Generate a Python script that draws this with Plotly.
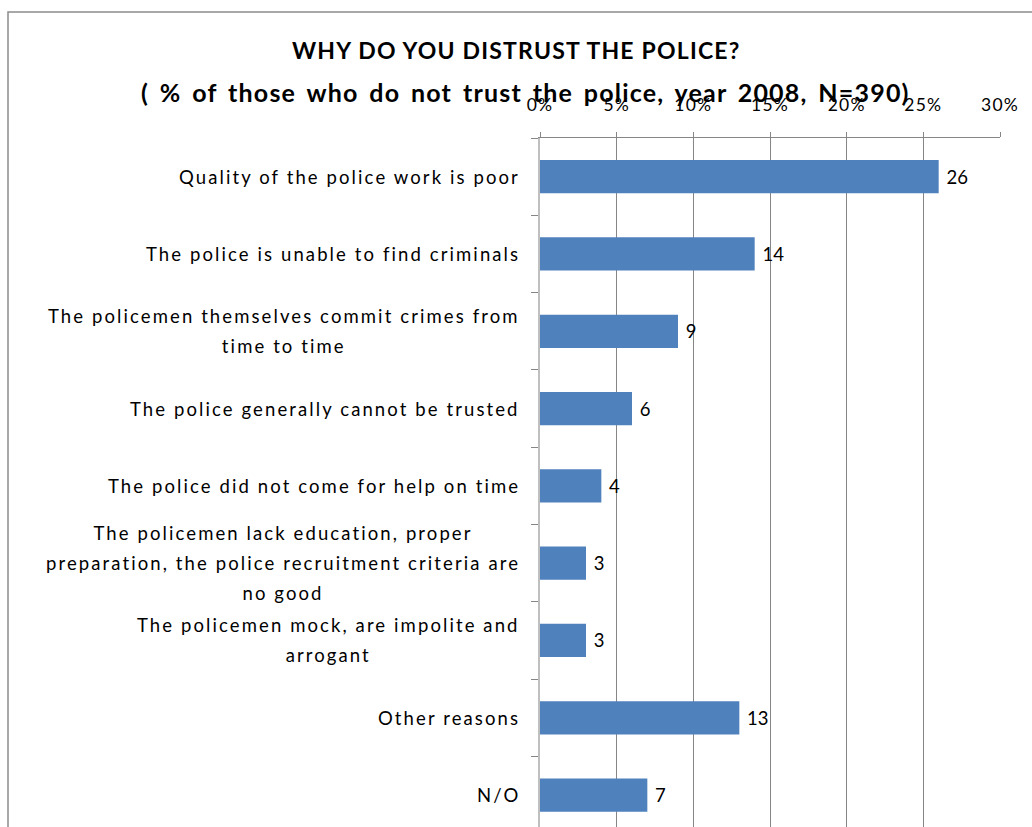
import plotly.graph_objects as go

# Reasons for distrust, top to bottom
categories = [
    "Quality of the police work is poor",
    "The police is unable to find criminals",
    "The policemen themselves commit crimes from<br>time to time",
    "The police generally cannot be trusted",
    "The police did not come for help on time",
    "The policemen lack education, proper<br>preparation, the police recruitment criteria are<br>no good",
    "The policemen mock, are impolite and<br>arrogant",
    "Other reasons",
    "N/O",
]
values = [26, 14, 9, 6, 4, 3, 3, 13, 7]

x_tickvals = [0, 5, 10, 15, 20, 25, 30]
x_ticktext = ["0%", "5%", "10%", "15%", "20%", "25%", "30%"]

title_lines = [
    "WHY DO YOU DISTRUST THE POLICE?",
    "( % of those who do not trust the police, year 2008, N=390)",
]

W, H = 1032, 827
L, R, T, B = 540, 32, 138, 0
plot_w = W - L - R
plot_h = H - T - B

FONT = "Lato"
LABEL_SIZE = 18.5
LINE_GAP = 30  # spacing between lines of a wrapped category label
# plotly spaces lines by 1.3em of the base font, so the base size sets the gap
BASE_SIZE = LINE_GAP / 1.3
LABEL_STYLE = f"font-size:{LABEL_SIZE}px;letter-spacing:2.1px"


def px_to_paper(px, py):
    return (px - L) / plot_w, (H - py) / plot_h


fig = go.Figure(
    go.Bar(
        y=categories,
        x=values,
        orientation="h",
        width=0.43,
        marker=dict(color="#4F81BD", line=dict(width=0)),
        text=[f" {v}" for v in values],
        textposition="outside",
        textfont=dict(family=FONT, size=18.5, color="#000000"),
        cliponaxis=False,
        hoverinfo="skip",
    )
)

# Category labels, right-aligned against the axis, wrapped lines centred
annotations = []
for cat in categories:
    lines = cat.split("<br>")
    text = "<br>".join(f"<span style='{LABEL_STYLE}'>{line}</span>" for line in lines)
    annotations.append(
        dict(
            text=text,
            xref="paper",
            x=0,
            xanchor="right",
            xshift=-18,
            yref="y",
            y=cat,
            yanchor="middle",
            align="center",
            showarrow=False,
            font=dict(family=FONT, size=BASE_SIZE, color="#000000"),
        )
    )

# Two-line bold title
title_styles = [
    (516, 50, 23, "letter-spacing:1.2px"),
    (525, 92, 25, "letter-spacing:1.2px;word-spacing:3.5px"),
]
for text, (cx, cy, size, style) in zip(title_lines, title_styles):
    ax, ay = px_to_paper(cx, cy)
    annotations.append(
        dict(
            text=f"<b><span style='{style}'>{text}</span></b>",
            xref="paper",
            yref="paper",
            x=ax,
            y=ay,
            xanchor="center",
            yanchor="middle",
            showarrow=False,
            font=dict(family=FONT, size=size, color="#000000"),
        )
    )

bx0, by0 = px_to_paper(8, 12)
bx1, by1 = px_to_paper(W + 20, H + 20)

fig.update_layout(
    width=W,
    height=H,
    margin=dict(l=L, r=R, t=T, b=B, pad=0),
    paper_bgcolor="#FFFFFF",
    plot_bgcolor="#FFFFFF",
    showlegend=False,
    bargap=0.57,
    annotations=annotations,
    shapes=[
        dict(
            type="rect",
            xref="paper",
            yref="paper",
            x0=bx0,
            y0=by1,
            x1=bx1,
            y1=by0,
            line=dict(color="#8C8C8C", width=1.5),
            fillcolor="rgba(0,0,0,0)",
            layer="below",
        )
    ],
    xaxis=dict(
        side="top",
        range=[0, 30],
        tickvals=x_tickvals,
        ticktext=[f"<span style='letter-spacing:1.2px'>{t}</span>" for t in x_ticktext],
        showgrid=True,
        gridcolor="#868686",
        gridwidth=1,
        zeroline=False,
        showline=True,
        linecolor="#868686",
        linewidth=1,
        ticks="outside",
        ticklen=5,
        tickcolor="#868686",
        ticklabelstandoff=14,
        tickfont=dict(family=FONT, size=17.5, color="#000000"),
        fixedrange=True,
    ),
    yaxis=dict(
        type="category",
        range=[8.413, -0.5],
        showticklabels=False,
        tickson="boundaries",
        ticks="outside",
        ticklen=7,
        tickcolor="#868686",
        showgrid=False,
        zeroline=False,
        showline=True,
        linecolor="#BFBFBF",
        linewidth=2,
        fixedrange=True,
    ),
)

fig.write_html("out.html")
